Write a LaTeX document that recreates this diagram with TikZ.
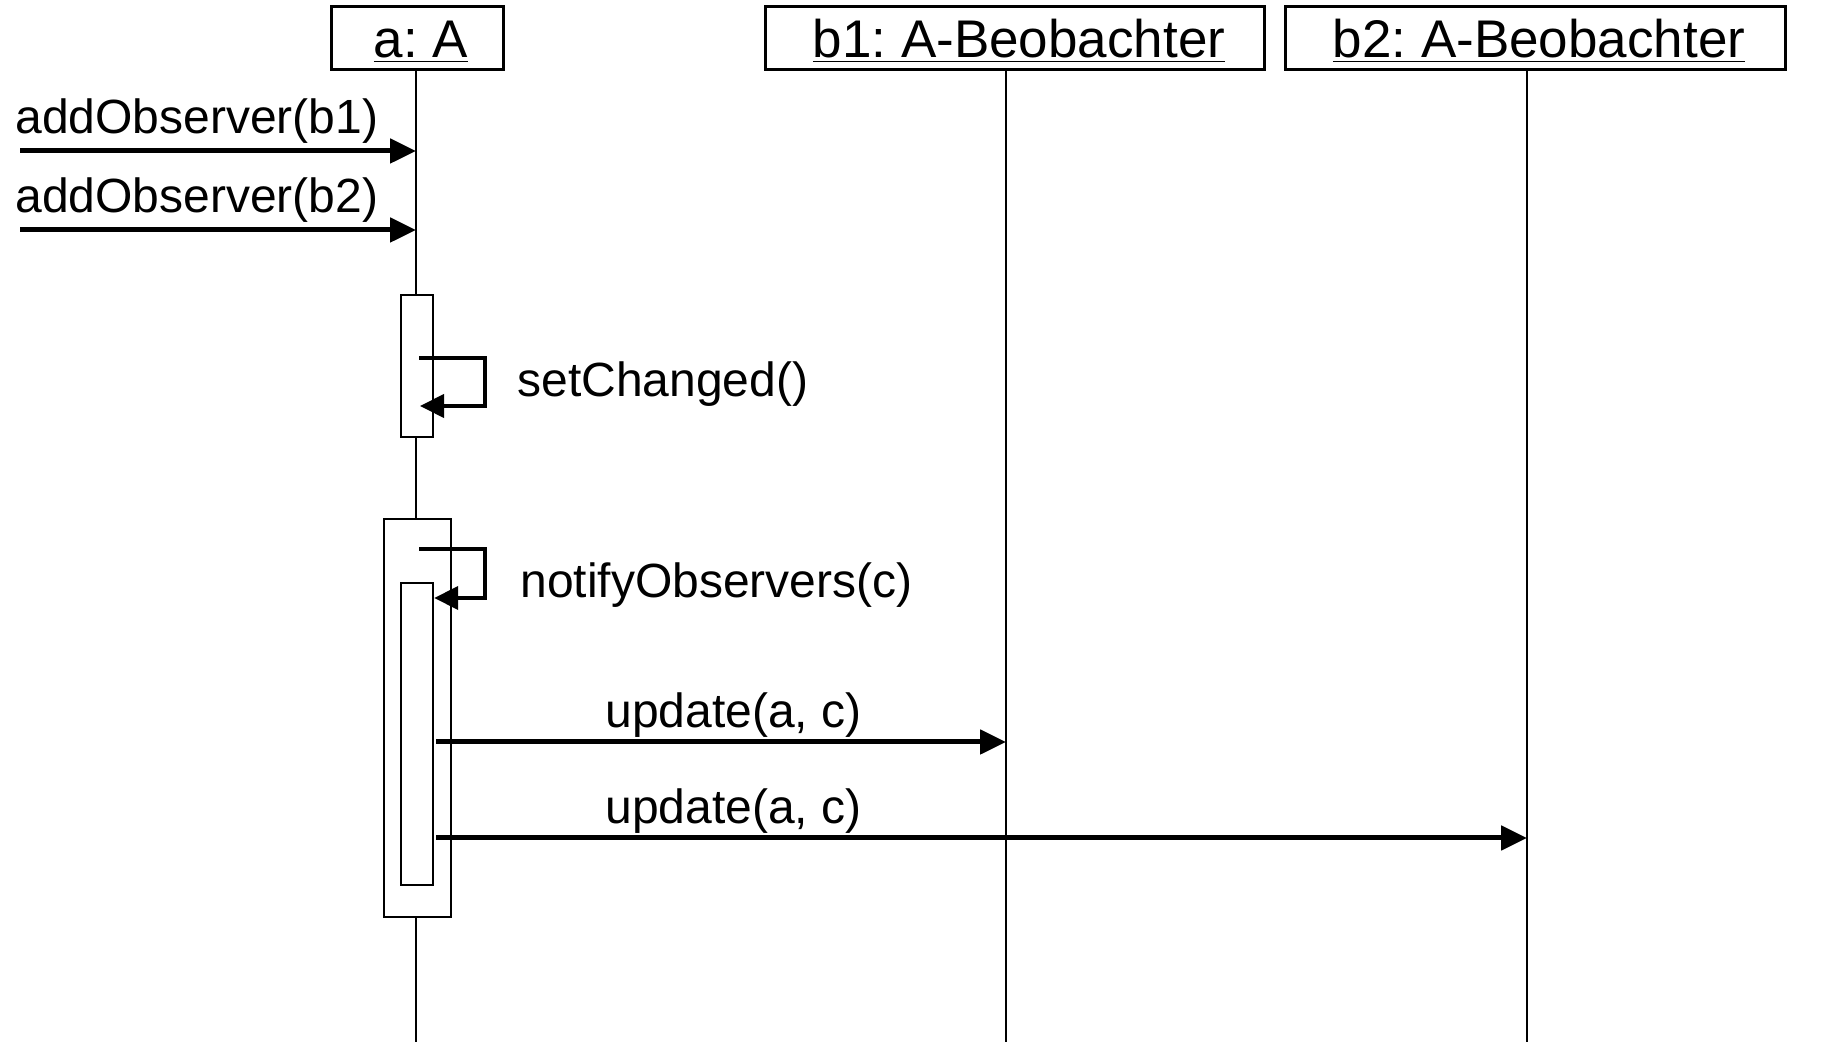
\documentclass[tikz,border=0pt]{standalone}
\usepackage{fontspec}
\setmainfont{Liberation Sans}
\usetikzlibrary{arrows.meta}
\frenchspacing
\begin{document}
\begin{tikzpicture}[x=0.5pt,y=-0.5pt,
  txt/.style={font=\fontsize{24}{28}\selectfont},
  ttl/.style={font=\fontsize{26.5}{30}\selectfont, inner sep=0pt, anchor=base},
  obj/.style={draw, line width=1.5pt, minimum height=31.5pt, inner sep=0pt},
  life/.style={line width=1.2pt},
  act/.style={draw, fill=white, line width=1.2pt, inner sep=0pt},
  msg/.style={line width=2.5pt, -{Triangle[length=13pt,width=12pt]}},
  selfmsg/.style={line width=2pt, line join=miter, -{Triangle[length=12pt,width=11.5pt]}},
  lbl/.style={txt, inner sep=0pt, anchor=base west}]
\useasboundingbox (0,0) rectangle (1822,1042);
% objects
\node[obj, minimum width=86pt] (a) at (417,38.5) {};
\node[obj, minimum width=249.5pt] (b1) at (1014.5,38.5) {};
\node[obj, minimum width=250pt] (b2) at (1535,38.5) {};
\node[ttl] (ta) at (421,58) {\underline{a: A}};
\node[ttl] (tb1) at (1019,58) {\underline{b1: A-Beobachter}};
\node[ttl] (tb2) at (1539,58) {\underline{b2: A-Beobachter}};
% lifeline ends
\coordinate (aend) at (416,1042);
\coordinate (b1end) at (1006,1042);
\coordinate (b2end) at (1527,1042);
\draw[life] (aend |- a.south) -- (aend);
\draw[life] (b1end |- b1.south) -- (b1end);
\draw[life] (b2end |- b2.south) -- (b2end);
% activations
\node[act, minimum width=16pt, minimum height=71pt] (act1) at (417,366) {};
\node[act, minimum width=33.5pt, minimum height=199pt] (act2) at (417.5,718) {};
\node[act, minimum width=16pt, minimum height=151pt] (act3) at (417,734) {};
% addObserver messages
\coordinate (s1) at (20,151);
\coordinate (s2) at (20,230);
\draw[msg] (s1) -- (s1 -| aend);
\draw[msg] (s2) -- (s2 -| aend);
\node[lbl] (l1) at (15,134) {addObserver(b1)};
\node[lbl] (l2) at (15,213) {addObserver(b2)};
% setChanged
\coordinate (c1) at (419,358);
\coordinate (c2) at (420,406);
\draw[selfmsg] (c1) -- (485,358) -- (485,406) -- (c2);
\node[lbl] (l3) at (517,397) {setChanged()};
% notifyObservers
\coordinate (n1) at (419,549);
\coordinate (n2) at (act3.east |- 0,598);
\draw[selfmsg] (n1) -- (485,549) -- (485,598) -- (n2);
\node[lbl] (l4) at (520,598) {notifyObservers(c)};
% updates
\coordinate (u1) at (act3.east |- 0,742);
\coordinate (u2) at (act3.east |- 0,838);
\draw[msg] ([xshift=1pt]u1) -- (u1 -| b1end);
\draw[msg] ([xshift=1pt]u2) -- (u2 -| b2end);
\node[lbl] (l5) at (605,728) {update(a, c)};
\node[lbl] (l6) at (605,824) {update(a, c)};
\end{tikzpicture}
\end{document}
